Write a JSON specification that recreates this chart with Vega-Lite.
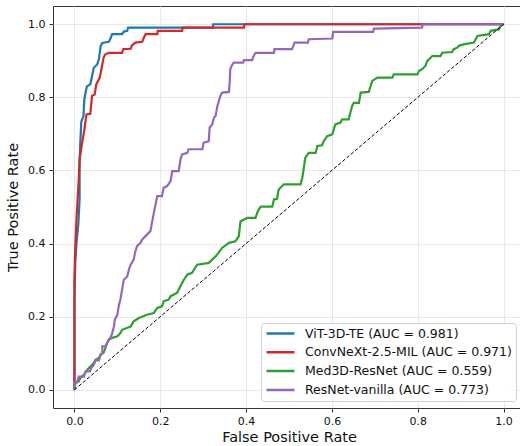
{
  "$schema": "https://vega.github.io/schema/vega-lite/v6.json",
  "width": 472,
  "height": 402,
  "autosize": "none",
  "padding": {"left": 53, "top": 6, "right": 0, "bottom": 38},
  "background": "white",
  "config": {
    "font": "DejaVu Sans",
    "view": {"stroke": "#333333", "strokeWidth": 1},
    "axis": {
      "domain": false,
      "gridColor": "#e7e7e7",
      "gridWidth": 1,
      "tickColor": "#333333",
      "tickSize": 4,
      "labelFontSize": 11,
      "labelColor": "#111111",
      "labelFont": "DejaVu Sans",
      "titleFont": "DejaVu Sans",
      "titleFontSize": 14.5,
      "titleFontWeight": "normal",
      "titleColor": "#111111"
    }
  },
  "layer": [
    {
      "data": {
        "values": [
          {"model": "ViT-3D-TE (AUC = 0.981)", "fpr": 0, "tpr": 0},
          {"model": "ViT-3D-TE (AUC = 0.981)", "fpr": 0, "tpr": 0.247},
          {"model": "ViT-3D-TE (AUC = 0.981)", "fpr": 0.002, "tpr": 0.351},
          {"model": "ViT-3D-TE (AUC = 0.981)", "fpr": 0.005, "tpr": 0.405},
          {"model": "ViT-3D-TE (AUC = 0.981)", "fpr": 0.009, "tpr": 0.452},
          {"model": "ViT-3D-TE (AUC = 0.981)", "fpr": 0.012, "tpr": 0.521},
          {"model": "ViT-3D-TE (AUC = 0.981)", "fpr": 0.012, "tpr": 0.63},
          {"model": "ViT-3D-TE (AUC = 0.981)", "fpr": 0.014, "tpr": 0.685},
          {"model": "ViT-3D-TE (AUC = 0.981)", "fpr": 0.016, "tpr": 0.734},
          {"model": "ViT-3D-TE (AUC = 0.981)", "fpr": 0.021, "tpr": 0.748},
          {"model": "ViT-3D-TE (AUC = 0.981)", "fpr": 0.023, "tpr": 0.795},
          {"model": "ViT-3D-TE (AUC = 0.981)", "fpr": 0.026, "tpr": 0.814},
          {"model": "ViT-3D-TE (AUC = 0.981)", "fpr": 0.029, "tpr": 0.83},
          {"model": "ViT-3D-TE (AUC = 0.981)", "fpr": 0.037, "tpr": 0.836},
          {"model": "ViT-3D-TE (AUC = 0.981)", "fpr": 0.041, "tpr": 0.858},
          {"model": "ViT-3D-TE (AUC = 0.981)", "fpr": 0.045, "tpr": 0.881},
          {"model": "ViT-3D-TE (AUC = 0.981)", "fpr": 0.053, "tpr": 0.89},
          {"model": "ViT-3D-TE (AUC = 0.981)", "fpr": 0.057, "tpr": 0.904},
          {"model": "ViT-3D-TE (AUC = 0.981)", "fpr": 0.061, "tpr": 0.94},
          {"model": "ViT-3D-TE (AUC = 0.981)", "fpr": 0.065, "tpr": 0.949},
          {"model": "ViT-3D-TE (AUC = 0.981)", "fpr": 0.08, "tpr": 0.952},
          {"model": "ViT-3D-TE (AUC = 0.981)", "fpr": 0.084, "tpr": 0.961},
          {"model": "ViT-3D-TE (AUC = 0.981)", "fpr": 0.088, "tpr": 0.973},
          {"model": "ViT-3D-TE (AUC = 0.981)", "fpr": 0.111, "tpr": 0.973},
          {"model": "ViT-3D-TE (AUC = 0.981)", "fpr": 0.115, "tpr": 0.98},
          {"model": "ViT-3D-TE (AUC = 0.981)", "fpr": 0.123, "tpr": 0.982},
          {"model": "ViT-3D-TE (AUC = 0.981)", "fpr": 0.125, "tpr": 0.991},
          {"model": "ViT-3D-TE (AUC = 0.981)", "fpr": 0.323, "tpr": 0.991},
          {"model": "ViT-3D-TE (AUC = 0.981)", "fpr": 0.323, "tpr": 1},
          {"model": "ViT-3D-TE (AUC = 0.981)", "fpr": 1, "tpr": 1},

          {"model": "ConvNeXt-2.5-MIL (AUC = 0.971)", "fpr": 0, "tpr": 0},
          {"model": "ConvNeXt-2.5-MIL (AUC = 0.971)", "fpr": 0, "tpr": 0.31},
          {"model": "ConvNeXt-2.5-MIL (AUC = 0.971)", "fpr": 0.002, "tpr": 0.392},
          {"model": "ConvNeXt-2.5-MIL (AUC = 0.971)", "fpr": 0.005, "tpr": 0.474},
          {"model": "ConvNeXt-2.5-MIL (AUC = 0.971)", "fpr": 0.008, "tpr": 0.534},
          {"model": "ConvNeXt-2.5-MIL (AUC = 0.971)", "fpr": 0.01, "tpr": 0.575},
          {"model": "ConvNeXt-2.5-MIL (AUC = 0.971)", "fpr": 0.012, "tpr": 0.63},
          {"model": "ConvNeXt-2.5-MIL (AUC = 0.971)", "fpr": 0.018, "tpr": 0.676},
          {"model": "ConvNeXt-2.5-MIL (AUC = 0.971)", "fpr": 0.022, "tpr": 0.703},
          {"model": "ConvNeXt-2.5-MIL (AUC = 0.971)", "fpr": 0.028, "tpr": 0.753},
          {"model": "ConvNeXt-2.5-MIL (AUC = 0.971)", "fpr": 0.037, "tpr": 0.755},
          {"model": "ConvNeXt-2.5-MIL (AUC = 0.971)", "fpr": 0.041, "tpr": 0.804},
          {"model": "ConvNeXt-2.5-MIL (AUC = 0.971)", "fpr": 0.047, "tpr": 0.808},
          {"model": "ConvNeXt-2.5-MIL (AUC = 0.971)", "fpr": 0.051, "tpr": 0.836},
          {"model": "ConvNeXt-2.5-MIL (AUC = 0.971)", "fpr": 0.059, "tpr": 0.854},
          {"model": "ConvNeXt-2.5-MIL (AUC = 0.971)", "fpr": 0.062, "tpr": 0.872},
          {"model": "ConvNeXt-2.5-MIL (AUC = 0.971)", "fpr": 0.068, "tpr": 0.909},
          {"model": "ConvNeXt-2.5-MIL (AUC = 0.971)", "fpr": 0.072, "tpr": 0.918},
          {"model": "ConvNeXt-2.5-MIL (AUC = 0.971)", "fpr": 0.08, "tpr": 0.922},
          {"model": "ConvNeXt-2.5-MIL (AUC = 0.971)", "fpr": 0.111, "tpr": 0.922},
          {"model": "ConvNeXt-2.5-MIL (AUC = 0.971)", "fpr": 0.114, "tpr": 0.932},
          {"model": "ConvNeXt-2.5-MIL (AUC = 0.971)", "fpr": 0.131, "tpr": 0.933},
          {"model": "ConvNeXt-2.5-MIL (AUC = 0.971)", "fpr": 0.134, "tpr": 0.942},
          {"model": "ConvNeXt-2.5-MIL (AUC = 0.971)", "fpr": 0.142, "tpr": 0.95},
          {"model": "ConvNeXt-2.5-MIL (AUC = 0.971)", "fpr": 0.158, "tpr": 0.952},
          {"model": "ConvNeXt-2.5-MIL (AUC = 0.971)", "fpr": 0.162, "tpr": 0.964},
          {"model": "ConvNeXt-2.5-MIL (AUC = 0.971)", "fpr": 0.166, "tpr": 0.973},
          {"model": "ConvNeXt-2.5-MIL (AUC = 0.971)", "fpr": 0.193, "tpr": 0.973},
          {"model": "ConvNeXt-2.5-MIL (AUC = 0.971)", "fpr": 0.194, "tpr": 0.982},
          {"model": "ConvNeXt-2.5-MIL (AUC = 0.971)", "fpr": 0.251, "tpr": 0.982},
          {"model": "ConvNeXt-2.5-MIL (AUC = 0.971)", "fpr": 0.252, "tpr": 0.991},
          {"model": "ConvNeXt-2.5-MIL (AUC = 0.971)", "fpr": 0.395, "tpr": 0.991},
          {"model": "ConvNeXt-2.5-MIL (AUC = 0.971)", "fpr": 0.396, "tpr": 1},
          {"model": "ConvNeXt-2.5-MIL (AUC = 0.971)", "fpr": 1, "tpr": 1},

          {"model": "Med3D-ResNet (AUC = 0.559)", "fpr": 0, "tpr": 0},
          {"model": "Med3D-ResNet (AUC = 0.559)", "fpr": 0.002, "tpr": 0.018},
          {"model": "Med3D-ResNet (AUC = 0.559)", "fpr": 0.01, "tpr": 0.023},
          {"model": "Med3D-ResNet (AUC = 0.559)", "fpr": 0.014, "tpr": 0.032},
          {"model": "Med3D-ResNet (AUC = 0.559)", "fpr": 0.022, "tpr": 0.041},
          {"model": "Med3D-ResNet (AUC = 0.559)", "fpr": 0.03, "tpr": 0.055},
          {"model": "Med3D-ResNet (AUC = 0.559)", "fpr": 0.041, "tpr": 0.068},
          {"model": "Med3D-ResNet (AUC = 0.559)", "fpr": 0.045, "tpr": 0.073},
          {"model": "Med3D-ResNet (AUC = 0.559)", "fpr": 0.049, "tpr": 0.082},
          {"model": "Med3D-ResNet (AUC = 0.559)", "fpr": 0.057, "tpr": 0.087},
          {"model": "Med3D-ResNet (AUC = 0.559)", "fpr": 0.061, "tpr": 0.096},
          {"model": "Med3D-ResNet (AUC = 0.559)", "fpr": 0.068, "tpr": 0.101},
          {"model": "Med3D-ResNet (AUC = 0.559)", "fpr": 0.072, "tpr": 0.114},
          {"model": "Med3D-ResNet (AUC = 0.559)", "fpr": 0.076, "tpr": 0.128},
          {"model": "Med3D-ResNet (AUC = 0.559)", "fpr": 0.08, "tpr": 0.137},
          {"model": "Med3D-ResNet (AUC = 0.559)", "fpr": 0.088, "tpr": 0.142},
          {"model": "Med3D-ResNet (AUC = 0.559)", "fpr": 0.1, "tpr": 0.146},
          {"model": "Med3D-ResNet (AUC = 0.559)", "fpr": 0.107, "tpr": 0.155},
          {"model": "Med3D-ResNet (AUC = 0.559)", "fpr": 0.111, "tpr": 0.164},
          {"model": "Med3D-ResNet (AUC = 0.559)", "fpr": 0.131, "tpr": 0.173},
          {"model": "Med3D-ResNet (AUC = 0.559)", "fpr": 0.138, "tpr": 0.187},
          {"model": "Med3D-ResNet (AUC = 0.559)", "fpr": 0.15, "tpr": 0.196},
          {"model": "Med3D-ResNet (AUC = 0.559)", "fpr": 0.169, "tpr": 0.205},
          {"model": "Med3D-ResNet (AUC = 0.559)", "fpr": 0.185, "tpr": 0.21},
          {"model": "Med3D-ResNet (AUC = 0.559)", "fpr": 0.193, "tpr": 0.224},
          {"model": "Med3D-ResNet (AUC = 0.559)", "fpr": 0.204, "tpr": 0.228},
          {"model": "Med3D-ResNet (AUC = 0.559)", "fpr": 0.208, "tpr": 0.242},
          {"model": "Med3D-ResNet (AUC = 0.559)", "fpr": 0.22, "tpr": 0.247},
          {"model": "Med3D-ResNet (AUC = 0.559)", "fpr": 0.224, "tpr": 0.256},
          {"model": "Med3D-ResNet (AUC = 0.559)", "fpr": 0.239, "tpr": 0.265},
          {"model": "Med3D-ResNet (AUC = 0.559)", "fpr": 0.243, "tpr": 0.274},
          {"model": "Med3D-ResNet (AUC = 0.559)", "fpr": 0.255, "tpr": 0.301},
          {"model": "Med3D-ResNet (AUC = 0.559)", "fpr": 0.263, "tpr": 0.315},
          {"model": "Med3D-ResNet (AUC = 0.559)", "fpr": 0.274, "tpr": 0.32},
          {"model": "Med3D-ResNet (AUC = 0.559)", "fpr": 0.286, "tpr": 0.342},
          {"model": "Med3D-ResNet (AUC = 0.559)", "fpr": 0.313, "tpr": 0.347},
          {"model": "Med3D-ResNet (AUC = 0.559)", "fpr": 0.321, "tpr": 0.356},
          {"model": "Med3D-ResNet (AUC = 0.559)", "fpr": 0.329, "tpr": 0.365},
          {"model": "Med3D-ResNet (AUC = 0.559)", "fpr": 0.336, "tpr": 0.375},
          {"model": "Med3D-ResNet (AUC = 0.559)", "fpr": 0.344, "tpr": 0.388},
          {"model": "Med3D-ResNet (AUC = 0.559)", "fpr": 0.36, "tpr": 0.402},
          {"model": "Med3D-ResNet (AUC = 0.559)", "fpr": 0.375, "tpr": 0.406},
          {"model": "Med3D-ResNet (AUC = 0.559)", "fpr": 0.383, "tpr": 0.42},
          {"model": "Med3D-ResNet (AUC = 0.559)", "fpr": 0.387, "tpr": 0.461},
          {"model": "Med3D-ResNet (AUC = 0.559)", "fpr": 0.403, "tpr": 0.47},
          {"model": "Med3D-ResNet (AUC = 0.559)", "fpr": 0.422, "tpr": 0.47},
          {"model": "Med3D-ResNet (AUC = 0.559)", "fpr": 0.427, "tpr": 0.488},
          {"model": "Med3D-ResNet (AUC = 0.559)", "fpr": 0.434, "tpr": 0.501},
          {"model": "Med3D-ResNet (AUC = 0.559)", "fpr": 0.461, "tpr": 0.501},
          {"model": "Med3D-ResNet (AUC = 0.559)", "fpr": 0.465, "tpr": 0.521},
          {"model": "Med3D-ResNet (AUC = 0.559)", "fpr": 0.472, "tpr": 0.522},
          {"model": "Med3D-ResNet (AUC = 0.559)", "fpr": 0.476, "tpr": 0.548},
          {"model": "Med3D-ResNet (AUC = 0.559)", "fpr": 0.488, "tpr": 0.562},
          {"model": "Med3D-ResNet (AUC = 0.559)", "fpr": 0.527, "tpr": 0.562},
          {"model": "Med3D-ResNet (AUC = 0.559)", "fpr": 0.531, "tpr": 0.58},
          {"model": "Med3D-ResNet (AUC = 0.559)", "fpr": 0.534, "tpr": 0.603},
          {"model": "Med3D-ResNet (AUC = 0.559)", "fpr": 0.538, "tpr": 0.635},
          {"model": "Med3D-ResNet (AUC = 0.559)", "fpr": 0.546, "tpr": 0.648},
          {"model": "Med3D-ResNet (AUC = 0.559)", "fpr": 0.562, "tpr": 0.648},
          {"model": "Med3D-ResNet (AUC = 0.559)", "fpr": 0.566, "tpr": 0.667},
          {"model": "Med3D-ResNet (AUC = 0.559)", "fpr": 0.577, "tpr": 0.669},
          {"model": "Med3D-ResNet (AUC = 0.559)", "fpr": 0.581, "tpr": 0.68},
          {"model": "Med3D-ResNet (AUC = 0.559)", "fpr": 0.589, "tpr": 0.694},
          {"model": "Med3D-ResNet (AUC = 0.559)", "fpr": 0.601, "tpr": 0.699},
          {"model": "Med3D-ResNet (AUC = 0.559)", "fpr": 0.604, "tpr": 0.712},
          {"model": "Med3D-ResNet (AUC = 0.559)", "fpr": 0.608, "tpr": 0.726},
          {"model": "Med3D-ResNet (AUC = 0.559)", "fpr": 0.62, "tpr": 0.731},
          {"model": "Med3D-ResNet (AUC = 0.559)", "fpr": 0.624, "tpr": 0.74},
          {"model": "Med3D-ResNet (AUC = 0.559)", "fpr": 0.639, "tpr": 0.74},
          {"model": "Med3D-ResNet (AUC = 0.559)", "fpr": 0.643, "tpr": 0.758},
          {"model": "Med3D-ResNet (AUC = 0.559)", "fpr": 0.647, "tpr": 0.776},
          {"model": "Med3D-ResNet (AUC = 0.559)", "fpr": 0.651, "tpr": 0.785},
          {"model": "Med3D-ResNet (AUC = 0.559)", "fpr": 0.663, "tpr": 0.785},
          {"model": "Med3D-ResNet (AUC = 0.559)", "fpr": 0.667, "tpr": 0.813},
          {"model": "Med3D-ResNet (AUC = 0.559)", "fpr": 0.686, "tpr": 0.815},
          {"model": "Med3D-ResNet (AUC = 0.559)", "fpr": 0.694, "tpr": 0.845},
          {"model": "Med3D-ResNet (AUC = 0.559)", "fpr": 0.706, "tpr": 0.854},
          {"model": "Med3D-ResNet (AUC = 0.559)", "fpr": 0.741, "tpr": 0.854},
          {"model": "Med3D-ResNet (AUC = 0.559)", "fpr": 0.744, "tpr": 0.863},
          {"model": "Med3D-ResNet (AUC = 0.559)", "fpr": 0.799, "tpr": 0.863},
          {"model": "Med3D-ResNet (AUC = 0.559)", "fpr": 0.803, "tpr": 0.872},
          {"model": "Med3D-ResNet (AUC = 0.559)", "fpr": 0.81, "tpr": 0.877},
          {"model": "Med3D-ResNet (AUC = 0.559)", "fpr": 0.818, "tpr": 0.886},
          {"model": "Med3D-ResNet (AUC = 0.559)", "fpr": 0.822, "tpr": 0.899},
          {"model": "Med3D-ResNet (AUC = 0.559)", "fpr": 0.834, "tpr": 0.913},
          {"model": "Med3D-ResNet (AUC = 0.559)", "fpr": 0.853, "tpr": 0.913},
          {"model": "Med3D-ResNet (AUC = 0.559)", "fpr": 0.857, "tpr": 0.922},
          {"model": "Med3D-ResNet (AUC = 0.559)", "fpr": 0.88, "tpr": 0.924},
          {"model": "Med3D-ResNet (AUC = 0.559)", "fpr": 0.884, "tpr": 0.932},
          {"model": "Med3D-ResNet (AUC = 0.559)", "fpr": 0.892, "tpr": 0.936},
          {"model": "Med3D-ResNet (AUC = 0.559)", "fpr": 0.896, "tpr": 0.941},
          {"model": "Med3D-ResNet (AUC = 0.559)", "fpr": 0.907, "tpr": 0.945},
          {"model": "Med3D-ResNet (AUC = 0.559)", "fpr": 0.931, "tpr": 0.95},
          {"model": "Med3D-ResNet (AUC = 0.559)", "fpr": 0.935, "tpr": 0.959},
          {"model": "Med3D-ResNet (AUC = 0.559)", "fpr": 0.939, "tpr": 0.968},
          {"model": "Med3D-ResNet (AUC = 0.559)", "fpr": 0.966, "tpr": 0.973},
          {"model": "Med3D-ResNet (AUC = 0.559)", "fpr": 0.97, "tpr": 0.982},
          {"model": "Med3D-ResNet (AUC = 0.559)", "fpr": 0.989, "tpr": 0.986},
          {"model": "Med3D-ResNet (AUC = 0.559)", "fpr": 0.993, "tpr": 0.995},
          {"model": "Med3D-ResNet (AUC = 0.559)", "fpr": 1, "tpr": 1},

          {"model": "ResNet-vanilla (AUC = 0.773)", "fpr": 0, "tpr": 0},
          {"model": "ResNet-vanilla (AUC = 0.773)", "fpr": 0, "tpr": 0.02},
          {"model": "ResNet-vanilla (AUC = 0.773)", "fpr": 0.006, "tpr": 0.02},
          {"model": "ResNet-vanilla (AUC = 0.773)", "fpr": 0.01, "tpr": 0.036},
          {"model": "ResNet-vanilla (AUC = 0.773)", "fpr": 0.022, "tpr": 0.036},
          {"model": "ResNet-vanilla (AUC = 0.773)", "fpr": 0.026, "tpr": 0.05},
          {"model": "ResNet-vanilla (AUC = 0.773)", "fpr": 0.036, "tpr": 0.05},
          {"model": "ResNet-vanilla (AUC = 0.773)", "fpr": 0.039, "tpr": 0.059},
          {"model": "ResNet-vanilla (AUC = 0.773)", "fpr": 0.045, "tpr": 0.068},
          {"model": "ResNet-vanilla (AUC = 0.773)", "fpr": 0.049, "tpr": 0.08},
          {"model": "ResNet-vanilla (AUC = 0.773)", "fpr": 0.057, "tpr": 0.08},
          {"model": "ResNet-vanilla (AUC = 0.773)", "fpr": 0.061, "tpr": 0.096},
          {"model": "ResNet-vanilla (AUC = 0.773)", "fpr": 0.065, "tpr": 0.101},
          {"model": "ResNet-vanilla (AUC = 0.773)", "fpr": 0.065, "tpr": 0.119},
          {"model": "ResNet-vanilla (AUC = 0.773)", "fpr": 0.072, "tpr": 0.119},
          {"model": "ResNet-vanilla (AUC = 0.773)", "fpr": 0.076, "tpr": 0.128},
          {"model": "ResNet-vanilla (AUC = 0.773)", "fpr": 0.08, "tpr": 0.137},
          {"model": "ResNet-vanilla (AUC = 0.773)", "fpr": 0.084, "tpr": 0.142},
          {"model": "ResNet-vanilla (AUC = 0.773)", "fpr": 0.088, "tpr": 0.155},
          {"model": "ResNet-vanilla (AUC = 0.773)", "fpr": 0.092, "tpr": 0.173},
          {"model": "ResNet-vanilla (AUC = 0.773)", "fpr": 0.094, "tpr": 0.192},
          {"model": "ResNet-vanilla (AUC = 0.773)", "fpr": 0.1, "tpr": 0.205},
          {"model": "ResNet-vanilla (AUC = 0.773)", "fpr": 0.103, "tpr": 0.228},
          {"model": "ResNet-vanilla (AUC = 0.773)", "fpr": 0.107, "tpr": 0.247},
          {"model": "ResNet-vanilla (AUC = 0.773)", "fpr": 0.111, "tpr": 0.274},
          {"model": "ResNet-vanilla (AUC = 0.773)", "fpr": 0.115, "tpr": 0.301},
          {"model": "ResNet-vanilla (AUC = 0.773)", "fpr": 0.123, "tpr": 0.31},
          {"model": "ResNet-vanilla (AUC = 0.773)", "fpr": 0.127, "tpr": 0.329},
          {"model": "ResNet-vanilla (AUC = 0.773)", "fpr": 0.131, "tpr": 0.342},
          {"model": "ResNet-vanilla (AUC = 0.773)", "fpr": 0.138, "tpr": 0.356},
          {"model": "ResNet-vanilla (AUC = 0.773)", "fpr": 0.142, "tpr": 0.379},
          {"model": "ResNet-vanilla (AUC = 0.773)", "fpr": 0.146, "tpr": 0.393},
          {"model": "ResNet-vanilla (AUC = 0.773)", "fpr": 0.154, "tpr": 0.402},
          {"model": "ResNet-vanilla (AUC = 0.773)", "fpr": 0.158, "tpr": 0.411},
          {"model": "ResNet-vanilla (AUC = 0.773)", "fpr": 0.177, "tpr": 0.434},
          {"model": "ResNet-vanilla (AUC = 0.773)", "fpr": 0.185, "tpr": 0.484},
          {"model": "ResNet-vanilla (AUC = 0.773)", "fpr": 0.193, "tpr": 0.53},
          {"model": "ResNet-vanilla (AUC = 0.773)", "fpr": 0.204, "tpr": 0.53},
          {"model": "ResNet-vanilla (AUC = 0.773)", "fpr": 0.208, "tpr": 0.553},
          {"model": "ResNet-vanilla (AUC = 0.773)", "fpr": 0.216, "tpr": 0.557},
          {"model": "ResNet-vanilla (AUC = 0.773)", "fpr": 0.224, "tpr": 0.571},
          {"model": "ResNet-vanilla (AUC = 0.773)", "fpr": 0.228, "tpr": 0.598},
          {"model": "ResNet-vanilla (AUC = 0.773)", "fpr": 0.243, "tpr": 0.598},
          {"model": "ResNet-vanilla (AUC = 0.773)", "fpr": 0.247, "tpr": 0.63},
          {"model": "ResNet-vanilla (AUC = 0.773)", "fpr": 0.251, "tpr": 0.644},
          {"model": "ResNet-vanilla (AUC = 0.773)", "fpr": 0.263, "tpr": 0.648},
          {"model": "ResNet-vanilla (AUC = 0.773)", "fpr": 0.266, "tpr": 0.658},
          {"model": "ResNet-vanilla (AUC = 0.773)", "fpr": 0.298, "tpr": 0.658},
          {"model": "ResNet-vanilla (AUC = 0.773)", "fpr": 0.301, "tpr": 0.676},
          {"model": "ResNet-vanilla (AUC = 0.773)", "fpr": 0.313, "tpr": 0.68},
          {"model": "ResNet-vanilla (AUC = 0.773)", "fpr": 0.315, "tpr": 0.717},
          {"model": "ResNet-vanilla (AUC = 0.773)", "fpr": 0.321, "tpr": 0.726},
          {"model": "ResNet-vanilla (AUC = 0.773)", "fpr": 0.325, "tpr": 0.744},
          {"model": "ResNet-vanilla (AUC = 0.773)", "fpr": 0.329, "tpr": 0.749},
          {"model": "ResNet-vanilla (AUC = 0.773)", "fpr": 0.333, "tpr": 0.776},
          {"model": "ResNet-vanilla (AUC = 0.773)", "fpr": 0.34, "tpr": 0.804},
          {"model": "ResNet-vanilla (AUC = 0.773)", "fpr": 0.344, "tpr": 0.813},
          {"model": "ResNet-vanilla (AUC = 0.773)", "fpr": 0.36, "tpr": 0.815},
          {"model": "ResNet-vanilla (AUC = 0.773)", "fpr": 0.362, "tpr": 0.845},
          {"model": "ResNet-vanilla (AUC = 0.773)", "fpr": 0.363, "tpr": 0.877},
          {"model": "ResNet-vanilla (AUC = 0.773)", "fpr": 0.368, "tpr": 0.89},
          {"model": "ResNet-vanilla (AUC = 0.773)", "fpr": 0.371, "tpr": 0.895},
          {"model": "ResNet-vanilla (AUC = 0.773)", "fpr": 0.393, "tpr": 0.895},
          {"model": "ResNet-vanilla (AUC = 0.773)", "fpr": 0.395, "tpr": 0.902},
          {"model": "ResNet-vanilla (AUC = 0.773)", "fpr": 0.414, "tpr": 0.902},
          {"model": "ResNet-vanilla (AUC = 0.773)", "fpr": 0.417, "tpr": 0.912},
          {"model": "ResNet-vanilla (AUC = 0.773)", "fpr": 0.422, "tpr": 0.922},
          {"model": "ResNet-vanilla (AUC = 0.773)", "fpr": 0.465, "tpr": 0.922},
          {"model": "ResNet-vanilla (AUC = 0.773)", "fpr": 0.466, "tpr": 0.932},
          {"model": "ResNet-vanilla (AUC = 0.773)", "fpr": 0.507, "tpr": 0.932},
          {"model": "ResNet-vanilla (AUC = 0.773)", "fpr": 0.51, "tpr": 0.941},
          {"model": "ResNet-vanilla (AUC = 0.773)", "fpr": 0.513, "tpr": 0.95},
          {"model": "ResNet-vanilla (AUC = 0.773)", "fpr": 0.544, "tpr": 0.95},
          {"model": "ResNet-vanilla (AUC = 0.773)", "fpr": 0.546, "tpr": 0.959},
          {"model": "ResNet-vanilla (AUC = 0.773)", "fpr": 0.601, "tpr": 0.961},
          {"model": "ResNet-vanilla (AUC = 0.773)", "fpr": 0.603, "tpr": 0.979},
          {"model": "ResNet-vanilla (AUC = 0.773)", "fpr": 0.696, "tpr": 0.979},
          {"model": "ResNet-vanilla (AUC = 0.773)", "fpr": 0.698, "tpr": 0.988},
          {"model": "ResNet-vanilla (AUC = 0.773)", "fpr": 0.81, "tpr": 0.991},
          {"model": "ResNet-vanilla (AUC = 0.773)", "fpr": 0.812, "tpr": 1},
          {"model": "ResNet-vanilla (AUC = 0.773)", "fpr": 1, "tpr": 1}
        ]
      },
      "mark": {"type": "line", "strokeWidth": 2.2, "clip": true},
      "encoding": {
        "x": {
          "field": "fpr", "type": "quantitative",
          "scale": {"domain": [-0.05, 1.05], "nice": false, "zero": false},
          "axis": {"values": [0, 0.2, 0.4, 0.6, 0.8, 1.0], "format": ".1f", "title": "False Positive Rate", "titlePadding": 4, "labelPadding": 3}
        },
        "y": {
          "field": "tpr", "type": "quantitative",
          "scale": {"domain": [-0.05, 1.05], "nice": false, "zero": false},
          "axis": {"values": [0, 0.2, 0.4, 0.6, 0.8, 1.0], "format": ".1f", "title": "True Positive Rate", "titlePadding": 7, "labelPadding": 4}
        },
        "order": [{"field": "fpr"}, {"field": "tpr"}],
        "color": {
          "field": "model", "type": "nominal",
          "scale": {
            "domain": ["ViT-3D-TE (AUC = 0.981)", "ConvNeXt-2.5-MIL (AUC = 0.971)", "Med3D-ResNet (AUC = 0.559)", "ResNet-vanilla (AUC = 0.773)"],
            "range": ["#1f77b4", "#d62728", "#2ca02c", "#9467bd"]
          },
          "legend": {
            "title": null,
            "orient": "none",
            "legendX": 208,
            "legendY": 317,
            "symbolType": "stroke",
            "symbolSize": 784,
            "symbolStrokeWidth": 2.5,
            "clipHeight": 13,
            "rowPadding": 5.8,
            "padding": 4,
            "labelFontSize": 12.5,
            "labelFont": "DejaVu Sans",
            "labelColor": "#111111",
            "labelOffset": 9,
            "labelLimit": 400,
            "fillColor": "rgba(255,255,255,0.85)",
            "strokeColor": "#d0d0d0",
            "cornerRadius": 3
          }
        }
      }
    },
    {
      "data": {"values": [{"fpr": 0, "tpr": 0}, {"fpr": 1, "tpr": 1}]},
      "mark": {"type": "line", "color": "black", "strokeWidth": 1, "strokeDash": [3.5, 2]},
      "encoding": {
        "x": {"field": "fpr", "type": "quantitative"},
        "y": {"field": "tpr", "type": "quantitative"}
      }
    }
  ]
}
